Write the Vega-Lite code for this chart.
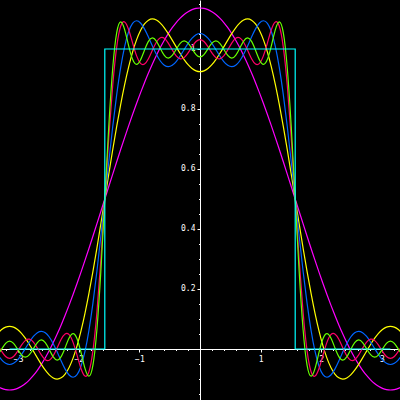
{
  "$schema": "https://vega.github.io/schema/vega-lite/v6.json",
  "width": 400,
  "height": 400,
  "autosize": {"type": "none"},
  "padding": 0,
  "background": "black",
  "config": {
    "view": {"stroke": null},
    "axis": {
      "grid": false,
      "title": null,
      "domainColor": "white",
      "domainWidth": 1,
      "tickColor": "white",
      "tickWidth": 1,
      "labelColor": "white",
      "labelFont": "DejaVu Sans Mono",
      "labelFontSize": 8,
      "labelOverlap": false,
      "labelFlush": false,
      "labelBound": false
    }
  },
  "resolve": {"axis": {"x": "independent", "y": "independent"}},
  "layer": [
    {
      "data": {
        "values": [
          {"x": -3.3379, "n1": -0.1244, "n2": 0.0521, "n3": -0.0187, "n5": 0.0129, "n6": -0.0193},
          {"x": -3.2725, "n1": -0.1312, "n2": 0.0649, "n3": -0.0361, "n5": -0.0078, "n6": -0.0003},
          {"x": -3.2070, "n1": -0.1353, "n2": 0.0729, "n3": -0.0477, "n5": -0.0249, "n6": 0.0186},
          {"x": -3.1416, "n1": -0.1366, "n2": 0.0756, "n3": -0.0517, "n5": -0.0315, "n6": 0.0263},
          {"x": -3.0761, "n1": -0.1353, "n2": 0.0729, "n3": -0.0477, "n5": -0.0249, "n6": 0.0186},
          {"x": -3.0107, "n1": -0.1312, "n2": 0.0649, "n3": -0.0361, "n5": -0.0078, "n6": -0.0003},
          {"x": -2.9452, "n1": -0.1244, "n2": 0.0521, "n3": -0.0187, "n5": 0.0129, "n6": -0.0193},
          {"x": -2.8798, "n1": -0.1149, "n2": 0.0351, "n3": 0.0022, "n5": 0.0287, "n6": -0.0272},
          {"x": -2.8143, "n1": -0.1028, "n2": 0.0151, "n3": 0.0234, "n5": 0.0328, "n6": -0.0191},
          {"x": -2.7489, "n1": -0.0882, "n2": -0.0070, "n3": 0.0418, "n5": 0.0231, "n6": 0.0009},
          {"x": -2.6834, "n1": -0.0710, "n2": -0.0296, "n3": 0.0544, "n5": 0.0029, "n6": 0.0215},
          {"x": -2.6180, "n1": -0.0513, "n2": -0.0513, "n3": 0.0589, "n5": -0.0198, "n6": 0.0303},
          {"x": -2.5525, "n1": -0.0293, "n2": -0.0707, "n3": 0.0541, "n5": -0.0357, "n6": 0.0211},
          {"x": -2.4871, "n1": -0.0051, "n2": -0.0863, "n3": 0.0400, "n5": -0.0373, "n6": -0.0020},
          {"x": -2.4216, "n1": 0.0214, "n2": -0.0965, "n3": 0.0176, "n5": -0.0225, "n6": -0.0263},
          {"x": -2.3562, "n1": 0.0498, "n2": -0.1002, "n3": -0.0102, "n5": 0.0041, "n6": -0.0368},
          {"x": -2.2907, "n1": 0.0802, "n2": -0.0962, "n3": -0.0399, "n5": 0.0324, "n6": -0.0253},
          {"x": -2.2253, "n1": 0.1124, "n2": -0.0836, "n3": -0.0670, "n5": 0.0502, "n6": 0.0043},
          {"x": -2.1598, "n1": 0.1463, "n2": -0.0618, "n3": -0.0867, "n5": 0.0478, "n6": 0.0365},
          {"x": -2.0944, "n1": 0.1817, "n2": -0.0305, "n3": -0.0942, "n5": 0.0220, "n6": 0.0510},
          {"x": -2.0289, "n1": 0.2184, "n2": 0.0103, "n3": -0.0854, "n5": -0.0207, "n6": 0.0341},
          {"x": -1.9635, "n1": 0.2564, "n2": 0.0603, "n3": -0.0573, "n5": -0.0651, "n6": -0.0116},
          {"x": -1.8980, "n1": 0.2954, "n2": 0.1189, "n3": -0.0081, "n5": -0.0903, "n6": -0.0647},
          {"x": -1.8326, "n1": 0.3352, "n2": 0.1852, "n3": 0.0622, "n5": -0.0757, "n6": -0.0907},
          {"x": -1.7671, "n1": 0.3758, "n2": 0.2579, "n3": 0.1520, "n5": -0.0065, "n6": -0.0547},
          {"x": -1.7017, "n1": 0.4169, "n2": 0.3357, "n3": 0.2582, "n5": 0.1207, "n6": 0.0633},
          {"x": -1.6362, "n1": 0.4584, "n2": 0.4170, "n3": 0.3760, "n5": 0.2965, "n6": 0.2583},
          {"x": -1.5708, "n1": 0.5, "n2": 0.5, "n3": 0.5, "n5": 0.5, "n6": 0.5},
          {"x": -1.5053, "n1": 0.5416, "n2": 0.5830, "n3": 0.6240, "n5": 0.7035, "n6": 0.7417},
          {"x": -1.4399, "n1": 0.5831, "n2": 0.6643, "n3": 0.7418, "n5": 0.8793, "n6": 0.9367},
          {"x": -1.3744, "n1": 0.6242, "n2": 0.7421, "n3": 0.8480, "n5": 1.0065, "n6": 1.0547},
          {"x": -1.3090, "n1": 0.6648, "n2": 0.8148, "n3": 0.9378, "n5": 1.0757, "n6": 1.0907},
          {"x": -1.2435, "n1": 0.7046, "n2": 0.8811, "n3": 1.0081, "n5": 1.0903, "n6": 1.0647},
          {"x": -1.1781, "n1": 0.7436, "n2": 0.9397, "n3": 1.0573, "n5": 1.0651, "n6": 1.0116},
          {"x": -1.1126, "n1": 0.7816, "n2": 0.9897, "n3": 1.0854, "n5": 1.0207, "n6": 0.9659},
          {"x": -1.0472, "n1": 0.8183, "n2": 1.0305, "n3": 1.0942, "n5": 0.9780, "n6": 0.9490},
          {"x": -0.9817, "n1": 0.8537, "n2": 1.0618, "n3": 1.0867, "n5": 0.9522, "n6": 0.9635},
          {"x": -0.9163, "n1": 0.8876, "n2": 1.0836, "n3": 1.0670, "n5": 0.9498, "n6": 0.9957},
          {"x": -0.8508, "n1": 0.9198, "n2": 1.0962, "n3": 1.0399, "n5": 0.9676, "n6": 1.0253},
          {"x": -0.7854, "n1": 0.9502, "n2": 1.1002, "n3": 1.0102, "n5": 0.9959, "n6": 1.0368},
          {"x": -0.7199, "n1": 0.9786, "n2": 1.0965, "n3": 0.9824, "n5": 1.0225, "n6": 1.0263},
          {"x": -0.6545, "n1": 1.0051, "n2": 1.0863, "n3": 0.9600, "n5": 1.0373, "n6": 1.0020},
          {"x": -0.5890, "n1": 1.0293, "n2": 1.0707, "n3": 0.9459, "n5": 1.0357, "n6": 0.9789},
          {"x": -0.5236, "n1": 1.0513, "n2": 1.0513, "n3": 0.9411, "n5": 1.0198, "n6": 0.9697},
          {"x": -0.4581, "n1": 1.0710, "n2": 1.0296, "n3": 0.9456, "n5": 0.9971, "n6": 0.9785},
          {"x": -0.3927, "n1": 1.0882, "n2": 1.0070, "n3": 0.9582, "n5": 0.9769, "n6": 0.9991},
          {"x": -0.3272, "n1": 1.1028, "n2": 0.9849, "n3": 0.9766, "n5": 0.9672, "n6": 1.0191},
          {"x": -0.2618, "n1": 1.1149, "n2": 0.9649, "n3": 0.9978, "n5": 0.9713, "n6": 1.0272},
          {"x": -0.1963, "n1": 1.1244, "n2": 0.9479, "n3": 1.0187, "n5": 0.9871, "n6": 1.0193},
          {"x": -0.1309, "n1": 1.1312, "n2": 0.9351, "n3": 1.0361, "n5": 1.0078, "n6": 1.0003},
          {"x": -0.0654, "n1": 1.1353, "n2": 0.9271, "n3": 1.0477, "n5": 1.0249, "n6": 0.9814},
          {"x": 0, "n1": 1.1366, "n2": 0.9244, "n3": 1.0517, "n5": 1.0315, "n6": 0.9737},
          {"x": 0.0654, "n1": 1.1353, "n2": 0.9271, "n3": 1.0477, "n5": 1.0249, "n6": 0.9814},
          {"x": 0.1309, "n1": 1.1312, "n2": 0.9351, "n3": 1.0361, "n5": 1.0078, "n6": 1.0003},
          {"x": 0.1963, "n1": 1.1244, "n2": 0.9479, "n3": 1.0187, "n5": 0.9871, "n6": 1.0193},
          {"x": 0.2618, "n1": 1.1149, "n2": 0.9649, "n3": 0.9978, "n5": 0.9713, "n6": 1.0272},
          {"x": 0.3272, "n1": 1.1028, "n2": 0.9849, "n3": 0.9766, "n5": 0.9672, "n6": 1.0191},
          {"x": 0.3927, "n1": 1.0882, "n2": 1.0070, "n3": 0.9582, "n5": 0.9769, "n6": 0.9991},
          {"x": 0.4581, "n1": 1.0710, "n2": 1.0296, "n3": 0.9456, "n5": 0.9971, "n6": 0.9785},
          {"x": 0.5236, "n1": 1.0513, "n2": 1.0513, "n3": 0.9411, "n5": 1.0198, "n6": 0.9697},
          {"x": 0.5890, "n1": 1.0293, "n2": 1.0707, "n3": 0.9459, "n5": 1.0357, "n6": 0.9789},
          {"x": 0.6545, "n1": 1.0051, "n2": 1.0863, "n3": 0.9600, "n5": 1.0373, "n6": 1.0020},
          {"x": 0.7199, "n1": 0.9786, "n2": 1.0965, "n3": 0.9824, "n5": 1.0225, "n6": 1.0263},
          {"x": 0.7854, "n1": 0.9502, "n2": 1.1002, "n3": 1.0102, "n5": 0.9959, "n6": 1.0368},
          {"x": 0.8508, "n1": 0.9198, "n2": 1.0962, "n3": 1.0399, "n5": 0.9676, "n6": 1.0253},
          {"x": 0.9163, "n1": 0.8876, "n2": 1.0836, "n3": 1.0670, "n5": 0.9498, "n6": 0.9957},
          {"x": 0.9817, "n1": 0.8537, "n2": 1.0618, "n3": 1.0867, "n5": 0.9522, "n6": 0.9635},
          {"x": 1.0472, "n1": 0.8183, "n2": 1.0305, "n3": 1.0942, "n5": 0.9780, "n6": 0.9490},
          {"x": 1.1126, "n1": 0.7816, "n2": 0.9897, "n3": 1.0854, "n5": 1.0207, "n6": 0.9659},
          {"x": 1.1781, "n1": 0.7436, "n2": 0.9397, "n3": 1.0573, "n5": 1.0651, "n6": 1.0116},
          {"x": 1.2435, "n1": 0.7046, "n2": 0.8811, "n3": 1.0081, "n5": 1.0903, "n6": 1.0647},
          {"x": 1.3090, "n1": 0.6648, "n2": 0.8148, "n3": 0.9378, "n5": 1.0757, "n6": 1.0907},
          {"x": 1.3744, "n1": 0.6242, "n2": 0.7421, "n3": 0.8480, "n5": 1.0065, "n6": 1.0547},
          {"x": 1.4399, "n1": 0.5831, "n2": 0.6643, "n3": 0.7418, "n5": 0.8793, "n6": 0.9367},
          {"x": 1.5053, "n1": 0.5416, "n2": 0.5830, "n3": 0.6240, "n5": 0.7035, "n6": 0.7417},
          {"x": 1.5708, "n1": 0.5, "n2": 0.5, "n3": 0.5, "n5": 0.5, "n6": 0.5},
          {"x": 1.6362, "n1": 0.4584, "n2": 0.4170, "n3": 0.3760, "n5": 0.2965, "n6": 0.2583},
          {"x": 1.7017, "n1": 0.4169, "n2": 0.3357, "n3": 0.2582, "n5": 0.1207, "n6": 0.0633},
          {"x": 1.7671, "n1": 0.3758, "n2": 0.2579, "n3": 0.1520, "n5": -0.0065, "n6": -0.0547},
          {"x": 1.8326, "n1": 0.3352, "n2": 0.1852, "n3": 0.0622, "n5": -0.0757, "n6": -0.0907},
          {"x": 1.8980, "n1": 0.2954, "n2": 0.1189, "n3": -0.0081, "n5": -0.0903, "n6": -0.0647},
          {"x": 1.9635, "n1": 0.2564, "n2": 0.0603, "n3": -0.0573, "n5": -0.0651, "n6": -0.0116},
          {"x": 2.0289, "n1": 0.2184, "n2": 0.0103, "n3": -0.0854, "n5": -0.0207, "n6": 0.0341},
          {"x": 2.0944, "n1": 0.1817, "n2": -0.0305, "n3": -0.0942, "n5": 0.0220, "n6": 0.0510},
          {"x": 2.1598, "n1": 0.1463, "n2": -0.0618, "n3": -0.0867, "n5": 0.0478, "n6": 0.0365},
          {"x": 2.2253, "n1": 0.1124, "n2": -0.0836, "n3": -0.0670, "n5": 0.0502, "n6": 0.0043},
          {"x": 2.2907, "n1": 0.0802, "n2": -0.0962, "n3": -0.0399, "n5": 0.0324, "n6": -0.0253},
          {"x": 2.3562, "n1": 0.0498, "n2": -0.1002, "n3": -0.0102, "n5": 0.0041, "n6": -0.0368},
          {"x": 2.4216, "n1": 0.0214, "n2": -0.0965, "n3": 0.0176, "n5": -0.0225, "n6": -0.0263},
          {"x": 2.4871, "n1": -0.0051, "n2": -0.0863, "n3": 0.0400, "n5": -0.0373, "n6": -0.0020},
          {"x": 2.5525, "n1": -0.0293, "n2": -0.0707, "n3": 0.0541, "n5": -0.0357, "n6": 0.0211},
          {"x": 2.6180, "n1": -0.0513, "n2": -0.0513, "n3": 0.0589, "n5": -0.0198, "n6": 0.0303},
          {"x": 2.6834, "n1": -0.0710, "n2": -0.0296, "n3": 0.0544, "n5": 0.0029, "n6": 0.0215},
          {"x": 2.7489, "n1": -0.0882, "n2": -0.0070, "n3": 0.0418, "n5": 0.0231, "n6": 0.0009},
          {"x": 2.8143, "n1": -0.1028, "n2": 0.0151, "n3": 0.0234, "n5": 0.0328, "n6": -0.0191},
          {"x": 2.8798, "n1": -0.1149, "n2": 0.0351, "n3": 0.0022, "n5": 0.0287, "n6": -0.0272},
          {"x": 2.9452, "n1": -0.1244, "n2": 0.0521, "n3": -0.0187, "n5": 0.0129, "n6": -0.0193},
          {"x": 3.0107, "n1": -0.1312, "n2": 0.0649, "n3": -0.0361, "n5": -0.0078, "n6": -0.0003},
          {"x": 3.0761, "n1": -0.1353, "n2": 0.0729, "n3": -0.0477, "n5": -0.0249, "n6": 0.0186},
          {"x": 3.1416, "n1": -0.1366, "n2": 0.0756, "n3": -0.0517, "n5": -0.0315, "n6": 0.0263},
          {"x": 3.2070, "n1": -0.1353, "n2": 0.0729, "n3": -0.0477, "n5": -0.0249, "n6": 0.0186},
          {"x": 3.2725, "n1": -0.1312, "n2": 0.0649, "n3": -0.0361, "n5": -0.0078, "n6": -0.0003},
          {"x": 3.3379, "n1": -0.1244, "n2": 0.0521, "n3": -0.0187, "n5": 0.0129, "n6": -0.0193}
        ]
      },
      "transform": [{"fold": ["n1", "n2", "n3", "n5", "n6"], "as": ["series", "v"]}],
      "mark": {"type": "line", "strokeWidth": 1.2, "interpolate": "natural", "clip": true},
      "encoding": {
        "x": {
          "field": "x",
          "type": "quantitative",
          "scale": {"domain": [-3.3, 3.3], "nice": false, "zero": false},
          "axis": {
            "orient": "bottom",
            "offset": -51,
            "values": [-3, -2, -1, 1, 2, 3],
            "format": "d",
            "tickSize": 3,
            "labelPadding": 3
          }
        },
        "y": {
          "field": "v",
          "type": "quantitative",
          "scale": {"domain": [-0.17, 1.163333], "nice": false, "zero": false},
          "axis": {
            "orient": "left",
            "offset": -200,
            "values": [0.2, 0.4, 0.6, 0.8, 1],
            "format": "~g",
            "tickSize": 3,
            "labelPadding": 2
          }
        },
        "color": {
          "field": "series",
          "type": "nominal",
          "scale": {"domain": ["n1", "n2", "n3", "n5", "n6"], "range": ["#ff00ff", "#ffff00", "#0066ff", "#ff0066", "#66ff00"]},
          "legend": null
        }
      }
    },
    {
      "data": {
        "values": [
          {"x": -3.1416, "y": 0, "i": 0},
          {"x": -1.5708, "y": 0, "i": 1},
          {"x": -1.5708, "y": 1, "i": 2},
          {"x": 1.5708, "y": 1, "i": 3},
          {"x": 1.5708, "y": 0, "i": 4},
          {"x": 3.1416, "y": 0, "i": 5}
        ]
      },
      "mark": {"type": "line", "strokeWidth": 1.2, "color": "#00ffff", "clip": true},
      "encoding": {
        "x": {
          "field": "x",
          "type": "quantitative",
          "scale": {"domain": [-3.3, 3.3], "nice": false, "zero": false},
          "axis": {
            "orient": "bottom",
            "offset": -51,
            "domain": false,
            "labels": false,
            "values": [-3.2, -2.8, -2.6, -2.4, -2.2, -1.8, -1.6, -1.4, -1.2, -0.8, -0.6, -0.4, -0.2, 0.2, 0.4, 0.6, 0.8, 1.2, 1.4, 1.6, 1.8, 2.2, 2.4, 2.6, 2.8, 3.2],
            "tickSize": 1.5
          }
        },
        "y": {
          "field": "y",
          "type": "quantitative",
          "scale": {"domain": [-0.17, 1.163333], "nice": false, "zero": false},
          "axis": {
            "orient": "left",
            "offset": -200,
            "domain": false,
            "labels": false,
            "values": [-0.15, -0.1, -0.05, 0.05, 0.1, 0.15, 0.25, 0.3, 0.35, 0.45, 0.5, 0.55, 0.65, 0.7, 0.75, 0.85, 0.9, 0.95, 1.05, 1.1, 1.15],
            "tickSize": 1.5
          }
        },
        "order": {"field": "i", "type": "quantitative"}
      }
    }
  ]
}
